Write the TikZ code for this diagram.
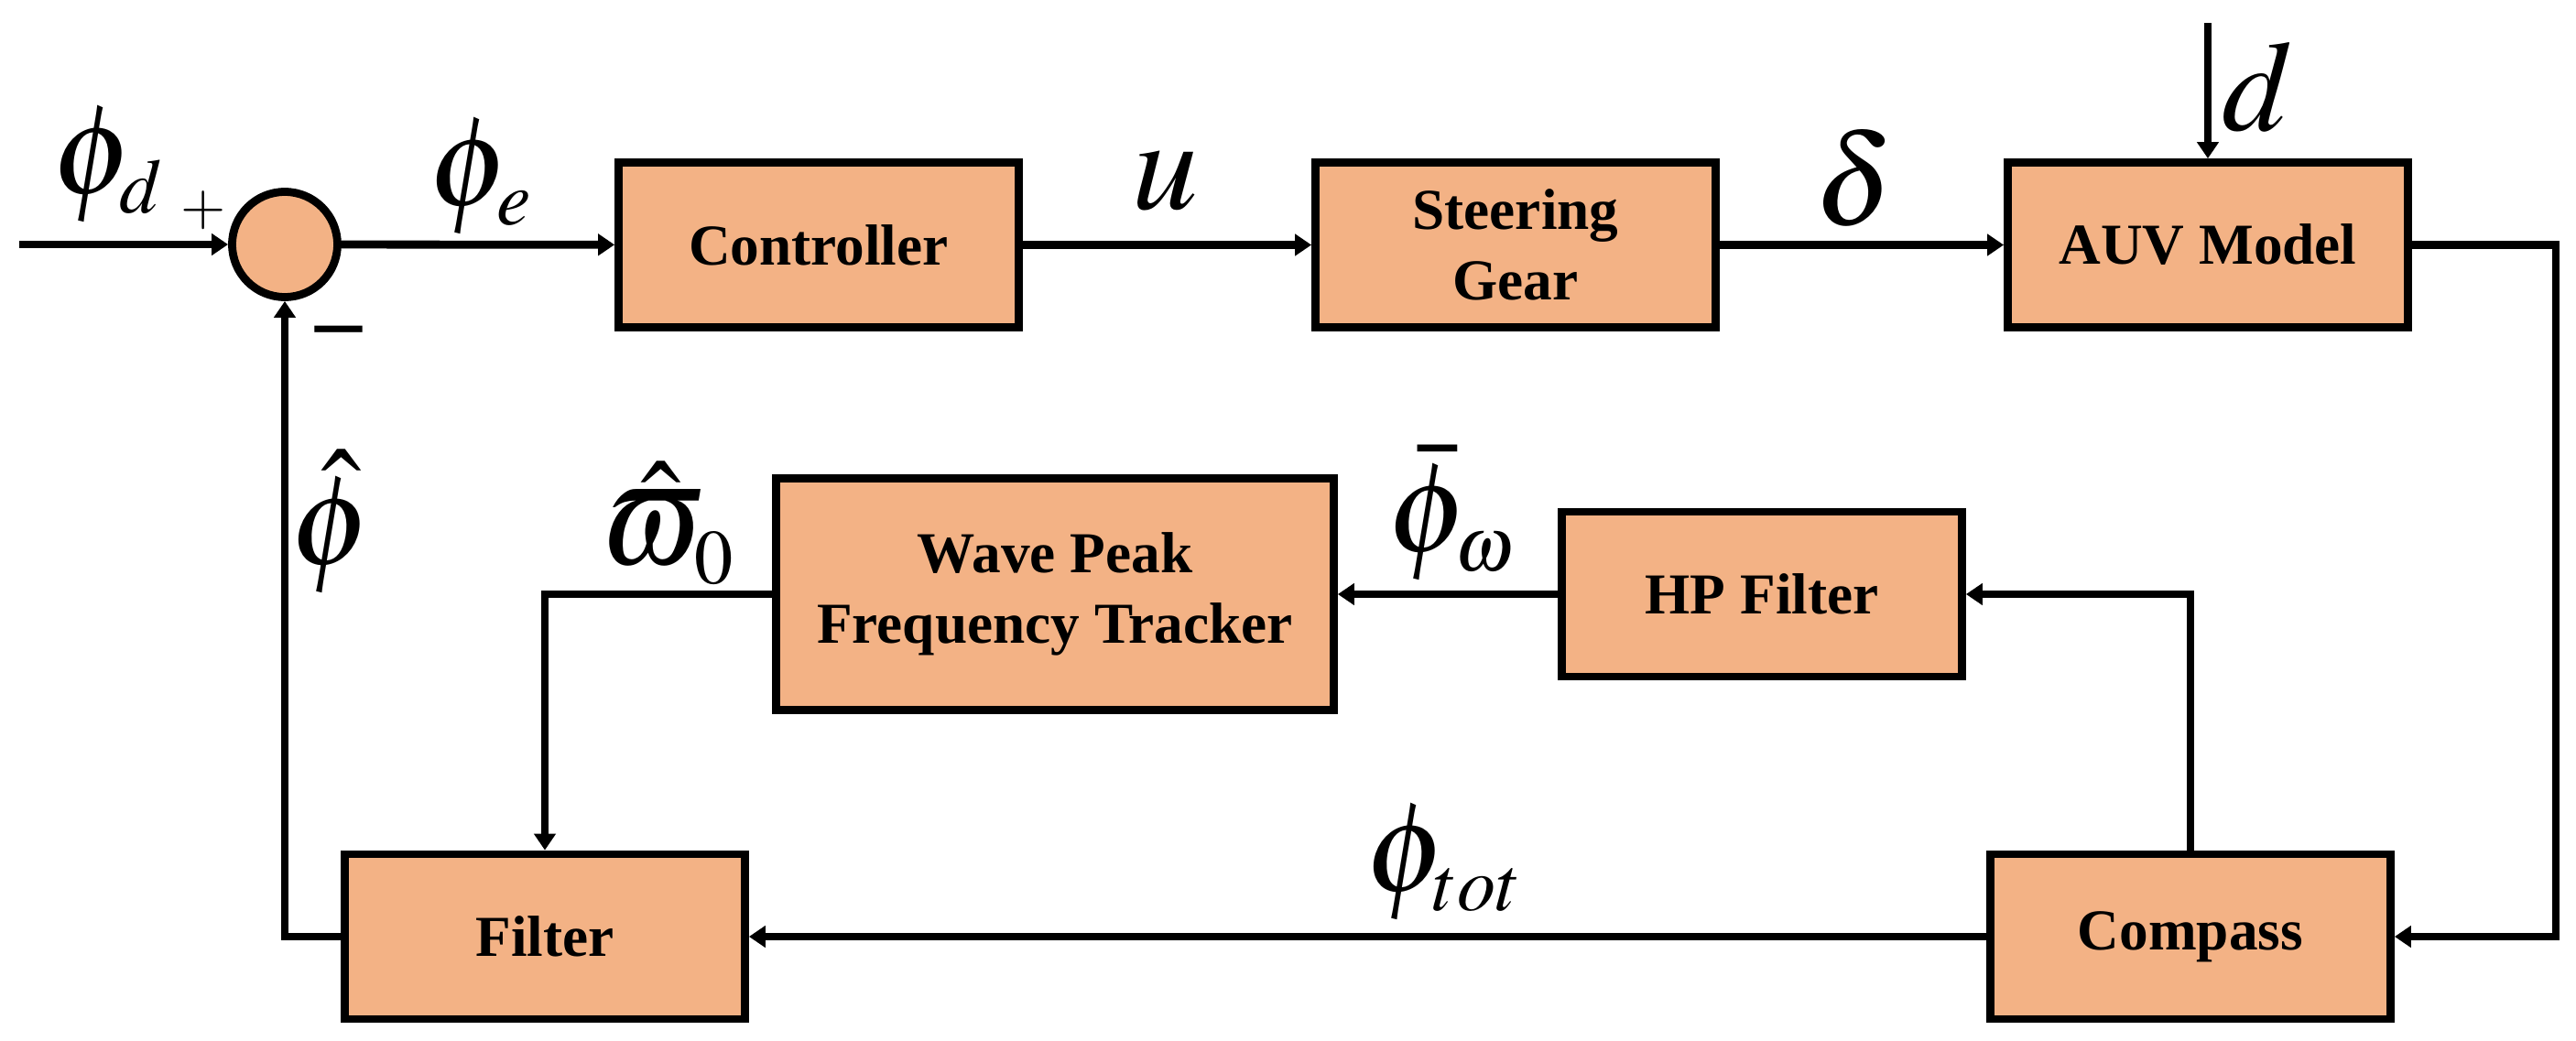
\documentclass[tikz,border=0pt]{standalone}
\usepackage{amsmath}
\usepackage{mathptmx}
\usepackage[no-math]{fontspec}
\setmainfont{Liberation Serif}
\usepackage{tikz}
\usepackage{xcolor}
\usetikzlibrary{arrows.meta, positioning, calc}
\DeclareMathSizes{40}{40}{24}{18}
\definecolor{cPeach}{RGB}{243,178,133}
\tikzset{
	blk/.style      ={rectangle, draw=black, line width=0.088cm, fill=cPeach, minimum width=4.37cm, minimum height=1.80cm, align=center, font=\fontsize{18}{22}\selectfont\bfseries},
	sumnode/.style  ={circle, draw=black, line width=0.088cm, fill=cPeach, minimum size=1.15cm, inner sep=0pt},
	sig/.style      ={-{Triangle[length=1.8mm, width=2.3mm]}, line width=0.088cm},
	lbl/.style      ={inner sep=0pt, font=\fontsize{40}{44}\selectfont},
}
\begin{document}
\begin{tikzpicture}
	\useasboundingbox (0,0) rectangle (28.13,-11.37);
	% forward path
	\coordinate (in) at (0.21,-2.67);
	\node[sumnode] (sum) at (3.11,-2.67) {};
	\node[blk] (ctrl) at (8.94,-2.675) {Controller};
	\node[blk] (steer) at (16.55,-2.675) {Steering\\Gear};
	\node[blk] (auv) at (24.11,-2.675) {AUV Model};
	\coordinate (dist) at (24.11,-0.25);
	% feedback path
	\node[blk, minimum width=6.09cm, minimum height=2.53cm] (wpft) at (11.52,-6.49) {Wave Peak\\Frequency Tracker};
	\node[blk] (hpf) at (19.24,-6.49) {HP Filter};
	\node[blk] (filt) at (5.95,-10.23) {Filter};
	\node[blk] (comp) at (23.92,-10.23) {Compass};
	\draw[sig] (in) -- (sum);
	\draw[sig] (sum) -- (ctrl);
	\draw[sig] (ctrl) -- (steer);
	\draw[sig] (steer) -- (auv);
	\draw[sig] (dist) -- (auv);
	\draw[sig] (auv.east) -- ++(1.57,0) |- (comp.east);
	\draw[sig] (comp.north) |- (hpf.east);
	\draw[sig] (hpf) -- (wpft);
	\draw[sig] (wpft.west) -| (filt.north);
	\draw[sig] (comp) -- (filt);
	\draw[sig] (filt.west) -| (sum.south);
	% signal labels
	\node[lbl] (lphid) at (1.18,-1.80) {$\phi_d$};
	\node[inner sep=0pt, font=\fontsize{18}{20}\selectfont] (lplus) at (2.22,-2.30) {$+$};
	\node[inner sep=0pt, font=\fontsize{29}{30}\selectfont\bfseries] (lminus) at (3.70,-3.70) {–};
	\node[lbl] (lphie) at (5.25,-1.93) {$\phi_e$};
	\node[lbl, font=\fontsize{41}{44}\selectfont] (lu) at (12.73,-1.98) {$u$};
	\node[lbl] (ldelta) at (20.25,-1.94) {$\delta$};
	\node[lbl] (ld) at (24.65,-0.95) {$d$};
	\node[lbl] (lphihat) at (3.62,-5.70) {$\hat{\phi}$};
	\node[lbl] (lomega) at (7.30,-5.72) {$\hat{\varpi}_0$};
	\node[lbl] (lphibar) at (15.85,-5.60) {$\bar{\phi}_{\omega}$};
	\node[lbl] (lphitot) at (15.77,-9.42) {$\phi_{tot}$};
\end{tikzpicture}
\end{document}
